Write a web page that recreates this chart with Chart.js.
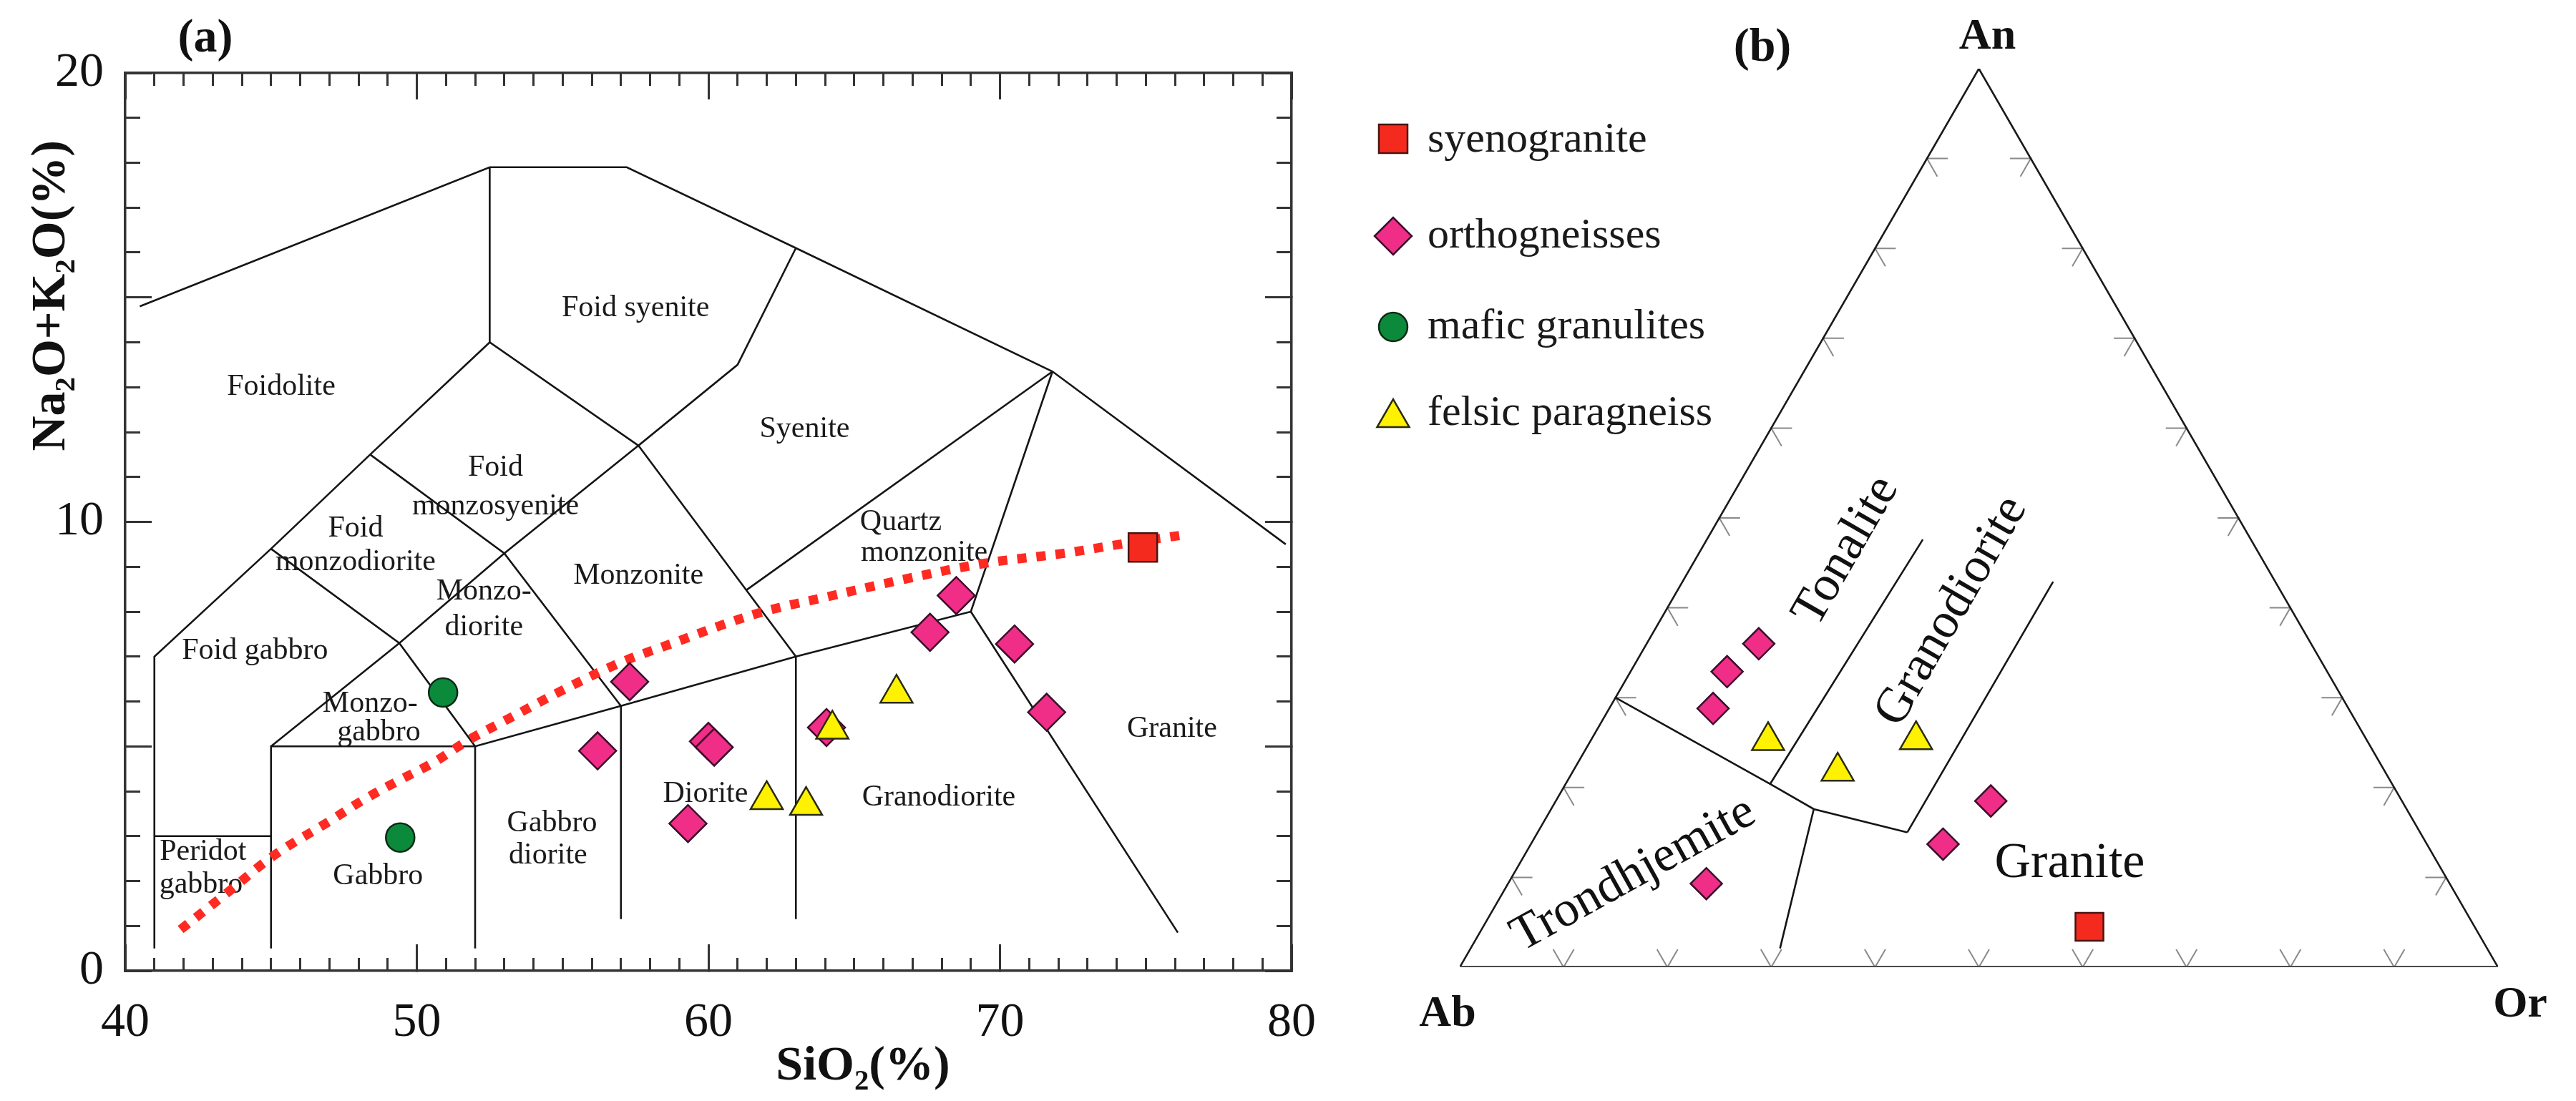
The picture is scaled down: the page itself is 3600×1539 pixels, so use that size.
<!DOCTYPE html>
<html><head><meta charset="utf-8">
<script src="https://cdn.jsdelivr.net/npm/chart.js@4.4.1/dist/chart.umd.min.js"></script>
<style>
html,body{margin:0;padding:0;background:#fff;}
#wrap{position:relative;width:3600px;height:1539px;background:#fff;overflow:hidden;}
#boxA{position:absolute;left:0;top:0;width:1900px;height:1539px;}
#boxB{position:absolute;left:1900px;top:0;width:1700px;height:1539px;}
</style></head><body>
<div id="wrap"><div id="boxA"><canvas id="cA"></canvas></div><div id="boxB"><canvas id="cB"></canvas></div></div>
<script>
const SERIF = "'Liberation Serif','Times New Roman',serif";
Chart.defaults.font.family = SERIF;

// ================= Panel (a): TAS data =================
const xTickValues = [40, 50, 60, 70, 80];
const xTickLabels = ['40', '50', '60', '70', '80'];
const yTickValues = [0, 10, 20];
const yTickLabels = ['0', '10', '20'];

const syenoSiO2 = [74.9];
const syenoAlk  = [9.43];
const orthoSiO2 = [56.2, 57.3, 59.3, 60.0, 60.2, 64.05, 67.6, 68.5, 70.5, 71.6];
const orthoAlk  = [4.9, 6.44, 3.28, 5.11, 4.98, 5.42, 7.54, 8.36, 7.28, 5.76];
const maficSiO2 = [49.43, 50.9];
const maficAlk  = [2.97, 6.2];
const felsicSiO2 = [62.0, 63.35, 64.25, 66.45];
const felsicAlk  = [3.81, 3.68, 5.38, 6.18];

const alkLineSiO2 = [41.9, 43.5, 45.1, 47.0, 48.2, 49.3, 50.6, 51.8, 52.9, 55.0, 57.0, 59.0, 60.5, 62.0, 64.0, 66.7, 69.5, 72.2, 74.2, 76.4];
const alkLineAlk  = [0.92, 1.74, 2.57, 3.33, 3.82, 4.21, 4.65, 5.15, 5.53, 6.25, 6.87, 7.35, 7.71, 8.02, 8.32, 8.72, 9.08, 9.30, 9.51, 9.72];

const tasBoundaries = [
  [[40.5,14.8],[52.5,17.9],[57.2,17.9],[63,16.1],[71.8,13.35],[79.8,9.5]],
  [[52.5,17.9],[52.5,14]],
  [[41,0.5],[41,7],[45,9.4],[48.4,11.5],[52.5,14],[57.6,11.7],[61,13.5],[63,16.1]],
  [[45,0.5],[45,5],[52,5],[57,5.9],[63,7],[69,8],[71.8,13.35]],
  [[41,3],[45,3]],
  [[52,0.5],[52,5]],
  [[57,1.15],[57,5.9]],
  [[63,1.15],[63,7]],
  [[69,8],[76.1,0.85]],
  [[45,5],[49.4,7.3],[53,9.3],[57.6,11.7]],
  [[45,9.4],[49.4,7.3],[52,5]],
  [[48.4,11.5],[53,9.3],[57,5.9]],
  [[57.6,11.7],[63,7]],
  [[61.3,8.48],[71.8,13.35]]
];

const fieldNames = ['Foidolite','Foid syenite','Foid','monzosyenite','Syenite','Foid','monzodiorite','Monzonite','Quartz','monzonite','Foid gabbro','Monzo-','diorite','Monzo-','gabbro','Peridot','gabbro','Gabbro','Gabbro','diorite','Diorite','Granodiorite','Granite'];
const fieldX = [45.35, 57.5, 52.7, 52.7, 63.3, 47.9, 47.9, 57.6, 66.6, 67.4, 44.45, 52.3, 52.3, 48.4, 48.7, 42.67, 42.6, 48.67, 54.64, 54.5, 59.9, 67.9, 75.9];
const fieldY = [13.0, 14.75, 11.2, 10.35, 12.06, 9.85, 9.1, 8.8, 10.0, 9.3, 7.13, 8.45, 7.65, 5.95, 5.3, 2.65, 1.91, 2.1, 3.28, 2.57, 3.93, 3.85, 5.39];

// ================= Panel (b): Ab-An-Or data (An %, Or %) =================
const orthoAn = [36.0, 32.9, 28.8, 18.5, 13.7, 9.3];
const orthoOr = [10.8, 9.3, 10.0, 41.9, 39.7, 19.1];
const felsicAn = [25.2, 21.8, 25.3];
const felsicOr = [17.1, 25.5, 31.3];
const syenoAn = [4.5];
const syenoOr = [58.4];
const ternTickFractions = [10, 20, 30, 40, 50, 60, 70, 80, 90];
const ternFieldLines = [
  [[30,0],[20.4,19.7],[17.6,25.3],[15.0,35.6]],
  [[20.4,19.7],[47.6,20.8]],
  [[17.6,25.3],[2.1,29.8]],
  [[15.0,35.6],[42.9,35.7]]
];
const ternLabels = ['Tonalite','Granodiorite','Trondhjemite','Granite'];
const ternLabelAn = [46.3, 39.6, 10.3, 11.5];
const ternLabelOr = [14.1, 27.6, 11.6, 53.0];
const ternLabelRot = [-60, -60, -29, 0];

const legendNames = ['syenogranite','orthogneisses','mafic granulites','felsic paragneiss'];

// ---------- styles ----------
const COL = {
  syeno: '#f42a1e', syenoB: '#4a1410',
  ortho: '#f02d87', orthoB: '#3a0f2a',
  mafic: '#0b8a3c', maficB: '#0d2a14',
  felsic: '#fff200', felsicB: '#2a2a10',
  alk: '#ff2a22'
};
const zip = (xs, ys) => xs.map((v, i) => ({x: v, y: ys[i]}));

// ================= Chart A =================
function mkScale(axis, position, step, tl, showBorder, size, weight, ticksExtra) {
  return {
    type: 'linear', axis: axis, position: position, weight: weight,
    min: axis === 'x' ? 40 : 0, max: axis === 'x' ? 80 : 20,
    afterFit: s => {
      if (s.isHorizontal()) s.height = size; else s.width = size;
      s.paddingLeft = 0; s.paddingRight = 0; s.paddingTop = 0; s.paddingBottom = 0;
    },
    border: {display: showBorder, color: '#333', width: 3.5},
    grid: {display: true, drawOnChartArea: false, drawTicks: true, tickLength: tl, tickWidth: 3, tickColor: '#333'},
    ticks: Object.assign({stepSize: step, display: false, autoSkip: false, maxRotation: 0, minRotation: 0, font: {size: 12}}, ticksExtra || {})
  };
}

const dsA = [];
tasBoundaries.forEach(poly => {
  dsA.push({type: 'line', data: poly.map(p => ({x: p[0], y: p[1]})), borderColor: '#151515', borderWidth: 2.6,
    pointRadius: 0, fill: false, tension: 0, order: 10});
});
dsA.push({type: 'line', data: zip(alkLineSiO2, alkLineAlk), borderColor: COL.alk, borderWidth: 13,
  borderDash: [13, 14], borderCapStyle: 'butt', pointRadius: 0, fill: false, tension: 0.35, order: 9});
dsA.push({label: 'orthogneisses', data: zip(orthoSiO2, orthoAlk), pointStyle: 'rectRot', pointRadius: 26,
  backgroundColor: COL.ortho, borderColor: COL.orthoB, borderWidth: 2.5, showLine: false, order: 2});
dsA.push({label: 'mafic granulites', data: zip(maficSiO2, maficAlk), pointStyle: 'circle', pointRadius: 20,
  backgroundColor: COL.mafic, borderColor: COL.maficB, borderWidth: 2.5, showLine: false, order: 1});
dsA.push({label: 'felsic paragneiss', data: zip(felsicSiO2, felsicAlk), pointStyle: 'triangle', pointRadius: 26,
  backgroundColor: COL.felsic, borderColor: COL.felsicB, borderWidth: 2.5, showLine: false, order: 1});
dsA.push({label: 'syenogranite', data: zip(syenoSiO2, syenoAlk), pointStyle: 'rect', pointRadius: 28.3,
  backgroundColor: COL.syeno, borderColor: COL.syenoB, borderWidth: 2.5, showLine: false, order: 1});

function drawRich(ctx, parts, x, y, size, bold) {
  let cx = x;
  for (const p of parts) {
    const s = p.sub ? size * 0.6 : size;
    ctx.font = (bold ? 'bold ' : '') + s + 'px ' + SERIF;
    ctx.fillText(p.t, cx, p.sub ? y + size * 0.2 : y);
    cx += ctx.measureText(p.t).width;
  }
  return cx - x;
}
function richWidth(ctx, parts, size, bold) {
  let w = 0;
  for (const p of parts) {
    const s = p.sub ? size * 0.6 : size;
    ctx.font = (bold ? 'bold ' : '') + s + 'px ' + SERIF;
    w += ctx.measureText(p.t).width;
  }
  return w;
}

const pluginA = {
  id: 'tasText',
  beforeDatasetsDraw(chart) {
    const {ctx, scales: {x, y}} = chart;
    ctx.save();
    ctx.fillStyle = '#1a1a1a';
    ctx.font = '42px ' + SERIF;
    ctx.textAlign = 'center';
    ctx.textBaseline = 'middle';
    fieldNames.forEach((t, i) => ctx.fillText(t, x.getPixelForValue(fieldX[i]), y.getPixelForValue(fieldY[i])));
    ctx.restore();
  },
  afterDraw(chart) {
    const ctx = chart.ctx;
    ctx.save();
    ctx.fillStyle = '#111';
    ctx.textAlign = 'left';
    ctx.textBaseline = 'alphabetic';
    const xt = [{t: 'SiO'}, {t: '2', sub: true}, {t: '(%)'}];
    const wx = richWidth(ctx, xt, 68, true);
    drawRich(ctx, xt, 1206 - wx / 2, 1509, 68, true);
    const yt = [{t: 'Na'}, {t: '2', sub: true}, {t: 'O+K'}, {t: '2', sub: true}, {t: 'O(%)'}];
    const wy = richWidth(ctx, yt, 68, true);
    ctx.save();
    ctx.translate(90, 196 + wy / 2);
    ctx.rotate(-Math.PI / 2);
    drawRich(ctx, yt, -wy / 2, 0, 68, true);
    ctx.restore();
    ctx.font = 'bold 66px ' + SERIF;
    ctx.textAlign = 'center';
    ctx.textBaseline = 'middle';
    ctx.fillText('(a)', 287, 55);
    ctx.restore();
  }
};

new Chart(document.getElementById('cA'), {
  type: 'scatter',
  data: {datasets: dsA},
  options: {
    responsive: true, maintainAspectRatio: false, animation: false, events: [],
    layout: {padding: {left: 0, top: 102, right: 95, bottom: 0}},
    plugins: {legend: {display: false}, tooltip: {enabled: false}},
    scales: {
      x: mkScale('x', 'bottom', 10, -37, true, 182, 5, {display: true, padding: 69, color: '#111', font: {size: 68, family: SERIF},
        callback: v => { const i = xTickValues.indexOf(v); return i >= 0 ? xTickLabels[i] : ''; }}),
      xMinor: mkScale('x', 'bottom', 1, -18, false, 0, 0),
      xTop: mkScale('x', 'top', 10, -37, true, 0, 5),
      xTopMinor: mkScale('x', 'top', 1, -18, false, 0, 0),
      y: mkScale('y', 'left', 5, -37, true, 175, 5, {display: true, padding: 67, color: '#111', font: {size: 68, family: SERIF},
        callback: v => { const i = yTickValues.indexOf(v); return i >= 0 ? yTickLabels[i] : ''; }}),
      yMinor: mkScale('y', 'left', 1, -21, false, 0, 0),
      yRight: mkScale('y', 'right', 5, -37, true, 0, 5),
      yRightMinor: mkScale('y', 'right', 1, -21, false, 0, 0)
    }
  },
  plugins: [pluginA]
});

// ================= Chart B (ternary) =================
const S3 = Math.sqrt(3) / 2;
const tern = (an, or) => ({x: or / 100 + an / 200, y: an / 100 * S3});
const dsB = [];
dsB.push({type: 'line', data: [tern(0, 0), tern(0, 100)], borderColor: '#4a4a4a', borderWidth: 4, pointRadius: 0, order: 10});
dsB.push({type: 'line', data: [tern(0, 100), tern(100, 0), tern(0, 0)], borderColor: '#1a1a1a', borderWidth: 2.6, pointRadius: 0, order: 10});
const TL = 0.02;
ternTickFractions.forEach(f => {
  const base = tern(0, f);
  dsB.push({type: 'line', data: [{x: base.x - 0.5 * TL, y: base.y + S3 * TL}, base, {x: base.x + 0.5 * TL, y: base.y + S3 * TL}],
    borderColor: '#8a8a8a', borderWidth: 2, pointRadius: 0, order: 11});
  const L = tern(f, 0);
  dsB.push({type: 'line', data: [{x: L.x + TL, y: L.y}, L, {x: L.x + 0.5 * TL, y: L.y - S3 * TL}],
    borderColor: '#8a8a8a', borderWidth: 2, pointRadius: 0, order: 11});
  const R = tern(f, 100 - f);
  dsB.push({type: 'line', data: [{x: R.x - TL, y: R.y}, R, {x: R.x - 0.5 * TL, y: R.y - S3 * TL}],
    borderColor: '#8a8a8a', borderWidth: 2, pointRadius: 0, order: 11});
});
ternFieldLines.forEach(poly => {
  dsB.push({type: 'line', data: poly.map(p => tern(p[0], p[1])), borderColor: '#151515', borderWidth: 2.6, pointRadius: 0, order: 10});
});
dsB.push({label: 'orthogneisses', data: orthoAn.map((a, i) => tern(a, orthoOr[i])), pointStyle: 'rectRot', pointRadius: 22,
  backgroundColor: COL.ortho, borderColor: COL.orthoB, borderWidth: 2.5, showLine: false, order: 2});
dsB.push({label: 'felsic paragneiss', data: felsicAn.map((a, i) => tern(a, felsicOr[i])), pointStyle: 'triangle', pointRadius: 26,
  backgroundColor: COL.felsic, borderColor: COL.felsicB, borderWidth: 2.5, showLine: false, order: 1});
dsB.push({label: 'syenogranite', data: syenoAn.map((a, i) => tern(a, syenoOr[i])), pointStyle: 'rect', pointRadius: 27.6,
  backgroundColor: COL.syeno, borderColor: COL.syenoB, borderWidth: 2.5, showLine: false, order: 1});

const legendStyles = [
  {pointStyle: 'rect', radius: 28.3, fill: COL.syeno, stroke: COL.syenoB},
  {pointStyle: 'rectRot', radius: 26, fill: COL.ortho, stroke: COL.orthoB},
  {pointStyle: 'circle', radius: 20, fill: COL.mafic, stroke: COL.maficB},
  {pointStyle: 'triangle', radius: 26, fill: COL.felsic, stroke: COL.felsicB}
];
const legendY = [194, 330, 457, 584];
const legendTextY = [196, 330, 457, 578];

const pluginB = {
  id: 'ternText',
  beforeDatasetsDraw(chart) {
    const {ctx, scales: {x, y}} = chart;
    ctx.save();
    ctx.fillStyle = '#111';
    ctx.font = '70px ' + SERIF;
    ctx.textAlign = 'center';
    ctx.textBaseline = 'middle';
    ternLabels.forEach((t, i) => {
      const p = tern(ternLabelAn[i], ternLabelOr[i]);
      ctx.save();
      ctx.translate(x.getPixelForValue(p.x), y.getPixelForValue(p.y));
      ctx.rotate(ternLabelRot[i] * Math.PI / 180);
      ctx.fillText(t, 0, 0);
      ctx.restore();
    });
    ctx.restore();
  },
  afterDraw(chart) {
    const {ctx, scales: {x, y}} = chart;
    ctx.save();
    ctx.fillStyle = '#111';
    ctx.textAlign = 'center';
    ctx.textBaseline = 'middle';
    ctx.font = 'bold 62px ' + SERIF;
    const ab = tern(0, 0), or = tern(0, 100), an = tern(100, 0);
    ctx.fillText('Ab', x.getPixelForValue(ab.x) - 17, y.getPixelForValue(ab.y) + 66);
    ctx.fillText('Or', x.getPixelForValue(or.x) + 31, y.getPixelForValue(or.y) + 53);
    ctx.fillText('An', x.getPixelForValue(an.x) + 12, y.getPixelForValue(an.y) - 44);
    ctx.font = 'bold 66px ' + SERIF;
    ctx.fillText('(b)', 563, 68);
    legendNames.forEach((name, i) => {
      const st = legendStyles[i];
      ctx.fillStyle = st.fill;
      ctx.strokeStyle = st.stroke;
      ctx.lineWidth = 2.5;
      Chart.helpers.drawPoint(ctx, {pointStyle: st.pointStyle, radius: st.radius, rotation: 0, borderWidth: 2.5}, 47, legendY[i]);
      ctx.fillStyle = '#1a1a1a';
      ctx.font = '60px ' + SERIF;
      ctx.textAlign = 'left';
      ctx.fillText(name, 95, legendTextY[i]);
    });
    ctx.restore();
  }
};

new Chart(document.getElementById('cB'), {
  type: 'scatter',
  data: {datasets: dsB},
  options: {
    responsive: true, maintainAspectRatio: false, animation: false, events: [],
    layout: {padding: {left: 140, top: 96, right: 109, bottom: 187}},
    plugins: {legend: {display: false}, tooltip: {enabled: false}},
    scales: {
      x: {type: 'linear', min: 0, max: 1, display: false},
      y: {type: 'linear', min: 0, max: S3, display: false}
    }
  },
  plugins: [pluginB]
});
</script>
</body></html>
